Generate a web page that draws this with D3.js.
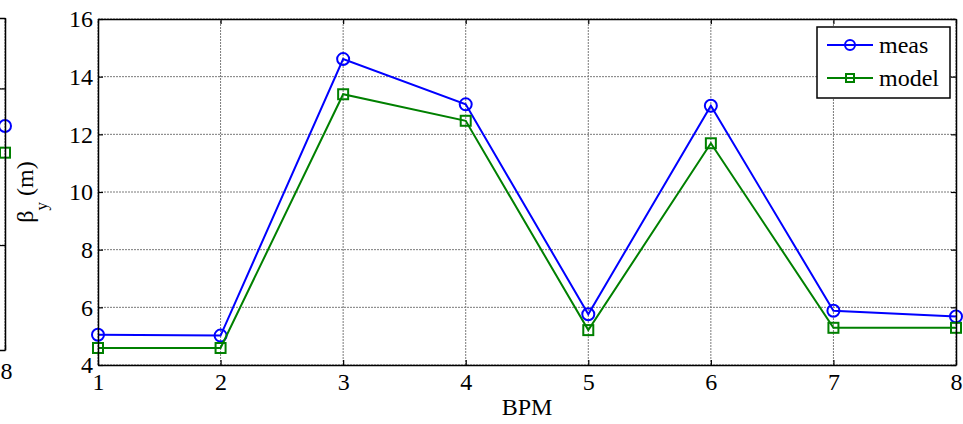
<!DOCTYPE html>
<html>
<head>
<meta charset="utf-8">
<script src="https://cdn.jsdelivr.net/npm/d3@7"></script>
<style>
  body { margin: 0; background: #fff; }
  svg { display: block; }
  text { font-family: "Liberation Serif", "Times New Roman", serif; fill: #000; }
</style>
</head>
<body>
<svg id="chart" width="963" height="424"></svg>
<script>
// Beta function per BPM: measured vs model
const bpm = [1, 2, 3, 4, 5, 6, 7, 8];
const meas = [5.05, 5.02, 14.61, 13.04, 5.76, 12.99, 5.88, 5.68];
const model = [4.59, 4.59, 13.39, 12.47, 5.21, 11.69, 5.29, 5.29];
const xTicks = [1, 2, 3, 4, 5, 6, 7, 8];
const yTicks = [4, 6, 8, 10, 12, 14, 16];
const yDomain = [4, 16];

// Neighbouring panel on the left: only its last BPM reaches the page
const prevBpm = [8];
const prevMeas = [17.6];
const prevModel = [15.9];
const prevYTicks = [10, 20];
const prevYDomain = [3.3, 24.5];

const seriesNames = ["meas", "model"];
const colors = { meas: "#0000ff", model: "#008000" };

const SERIF = '"Liberation Serif", "Times New Roman", serif';
const FONT = 24;
const svg = d3.select("#chart");

function drawPanel(g, x, y, xt, yt, data, labels) {
  const [x0, x1] = x.range();
  const [y0, y1] = y.range(); // y0 bottom, y1 top

  // dotted grid
  const grid = g.append("g").attr("stroke", "#7a7a7a").attr("stroke-width", 1)
    .attr("stroke-dasharray", "2,1");
  grid.selectAll("line.v").data(xt).join("line").attr("class", "v")
    .attr("x1", d => x(d)).attr("x2", d => x(d)).attr("y1", y0).attr("y2", y1);
  grid.selectAll("line.h").data(yt).join("line").attr("class", "h")
    .attr("x1", x0).attr("x2", x1).attr("y1", d => y(d)).attr("y2", d => y(d));

  // series lines and markers
  data.forEach(s => {
    const pts = s.xs.map((v, i) => [x(v), y(s.ys[i])]);
    g.append("path").datum(pts)
      .attr("d", d3.line())
      .attr("fill", "none").attr("stroke", s.color).attr("stroke-width", 2);
    const m = g.append("g");
    if (s.marker === "circle") {
      m.selectAll("circle").data(pts).join("circle")
        .attr("cx", d => d[0]).attr("cy", d => d[1]).attr("r", 6)
        .attr("fill", "none").attr("stroke", s.color).attr("stroke-width", 2);
    } else {
      m.selectAll("rect").data(pts).join("rect")
        .attr("x", d => d[0] - 5).attr("y", d => d[1] - 5)
        .attr("width", 10).attr("height", 10)
        .attr("fill", "none").attr("stroke", s.color).attr("stroke-width", 2);
    }
  });

  // axes with inward ticks on all four sides
  const bottom = g.append("g").attr("transform", `translate(0,${y0})`)
    .call(d3.axisBottom(x).tickValues(xt).tickFormat(d3.format("d"))
      .tickSizeInner(-5).tickSizeOuter(0).tickPadding(8));
  const top = g.append("g").attr("transform", `translate(0,${y1})`)
    .call(d3.axisTop(x).tickValues(xt).tickFormat("")
      .tickSizeInner(-5).tickSizeOuter(0));
  const left = g.append("g").attr("transform", `translate(${x0},0)`)
    .call(d3.axisLeft(y).tickValues(yt).tickFormat(d3.format("d"))
      .tickSizeInner(-5).tickSizeOuter(0).tickPadding(5));
  const right = g.append("g").attr("transform", `translate(${x1},0)`)
    .call(d3.axisRight(y).tickValues(yt).tickFormat("")
      .tickSizeInner(-5).tickSizeOuter(0));
  [bottom, top, left, right].forEach(a => {
    a.attr("font-family", SERIF).attr("font-size", FONT);
    a.select(".domain").attr("stroke", "#000").attr("stroke-width", 1.5);
    a.selectAll(".tick line").attr("stroke", "#000").attr("stroke-width", 1.2);
  });
  top.selectAll("text").remove();
  right.selectAll("text").remove();
  if (!labels) left.selectAll("text").remove();
  return { bottom, left };
}

// main panel
const x = d3.scaleLinear().domain([1, 8]).range([98, 956]);
const y = d3.scaleLinear().domain(yDomain).range([365, 19]);
drawPanel(svg.append("g"), x, y, xTicks, yTicks, [
  { xs: bpm, ys: meas, color: colors.meas, marker: "circle" },
  { xs: bpm, ys: model, color: colors.model, marker: "square" }
], true);

// left neighbour panel, only its right edge is in view
const xPrev = d3.scaleLinear().domain([1, 8]).range([5 - 7 * 122.6, 5]);
const yPrev = d3.scaleLinear().domain(prevYDomain).range([350, 18]);
const prevAxes = drawPanel(svg.append("g"), xPrev, yPrev, xTicks, prevYTicks, [
  { xs: prevBpm, ys: prevMeas, color: colors.meas, marker: "circle" },
  { xs: prevBpm, ys: prevModel, color: colors.model, marker: "square" }
], false);
// keep only the tick label that falls inside the page, nudged so it is whole
prevAxes.bottom.selectAll(".tick").filter(d => xPrev(d) < 0).select("text").remove();
prevAxes.bottom.selectAll(".tick text").attr("x", 1).attr("dy", "0.88em");

// axis titles
svg.append("text")
  .attr("x", (x.range()[0] + x.range()[1]) / 2).attr("y", 415)
  .attr("text-anchor", "middle").attr("font-size", FONT).text("BPM");

const yl = svg.append("text")
  .attr("transform", `translate(33,${(y.range()[0] + y.range()[1]) / 2}) rotate(-90)`)
  .attr("text-anchor", "middle").attr("font-size", FONT);
yl.append("tspan").text("β");
yl.append("tspan").attr("font-size", 17).attr("dy", 14).text("y");
yl.append("tspan").attr("dy", -14).text(" (m)");

// legend
const lg = svg.append("g");
lg.append("rect").attr("x", 817).attr("y", 27).attr("width", 133).attr("height", 71)
  .attr("fill", "#fff").attr("stroke", "#000").attr("stroke-width", 1.5);
const legendItems = [
  { name: seriesNames[0], color: colors.meas, marker: "circle", cy: 45 },
  { name: seriesNames[1], color: colors.model, marker: "square", cy: 78 }
];
legendItems.forEach(it => {
  lg.append("line").attr("x1", 827).attr("x2", 873).attr("y1", it.cy).attr("y2", it.cy)
    .attr("stroke", it.color).attr("stroke-width", 2);
  if (it.marker === "circle") {
    lg.append("circle").attr("cx", 850).attr("cy", it.cy).attr("r", 5)
      .attr("fill", "none").attr("stroke", it.color).attr("stroke-width", 2);
  } else {
    lg.append("rect").attr("x", 846).attr("y", it.cy - 4).attr("width", 8).attr("height", 8)
      .attr("fill", "none").attr("stroke", it.color).attr("stroke-width", 2);
  }
  lg.append("text").attr("x", 879).attr("y", it.cy).attr("dy", "0.32em")
    .attr("font-size", FONT).text(it.name);
});
</script>
</body>
</html>
